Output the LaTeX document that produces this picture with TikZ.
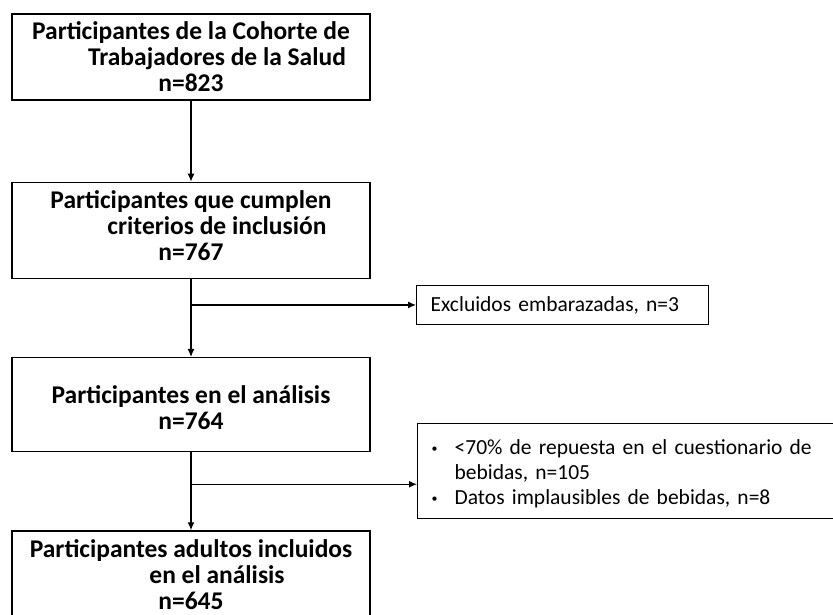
\documentclass[tikz,border=0pt]{standalone}
\usepackage{fontspec}
\setmainfont{Carlito}
\usetikzlibrary{positioning,arrows.meta}
\frenchspacing

\newcommand{\boxtext}[2][0pt]{\raisebox{#1}[\height][\depth]{\begin{tabular}{@{}c@{}}#2\end{tabular}}}
\newcommand{\itemdot}{\raisebox{2pt}{\fontsize{12}{12}\selectfont\textbullet}}

\begin{document}
\begin{tikzpicture}[
    x = 1pt, y = 1pt,
    box/.style = {draw, line width = 1.3pt, minimum width = 358pt, inner sep = 0pt,
      font = \bfseries\fontsize{25.5}{26}\selectfont},
    excl/.style = {draw, line width = 1.3pt, anchor = west, inner xsep = 14pt,
      inner ysep = 0pt, align = left, font = \fontsize{21.5}{25}\selectfont},
    flow/.style = {line width = 1.2pt, -{Latex[length = 8pt, width = 7pt]}}
  ]
  \useasboundingbox (0,0) rectangle (833,-615);
  \clip (0,0) rectangle (833,-615);

  \node[box, minimum height = 86pt] (coh) at (191,-57)
    {\boxtext[-3pt]{Participantes de la Cohorte de\\\hspace*{52pt}Trabajadores de la Salud\\n=823}};
  \node[box, minimum height = 96pt, below = 81pt of coh] (crit)
    {\boxtext[1pt]{Participantes que cumplen\\\hspace*{52pt}criterios de inclusión\\n=767}};
  \node[box, minimum height = 94pt, below = 78pt of crit] (ana)
    {\boxtext[-7pt]{Participantes en el análisis\\n=764}};
  \node[box, minimum height = 96pt, below = 78pt of ana] (adu)
    {\boxtext[1pt]{Participantes adultos incluidos\\\hspace*{52pt}en el análisis\\n=645}};

  \coordinate[below = 26pt of crit.south] (br1);
  \coordinate[below = 32pt of ana.south] (br2);

  \node[excl, minimum height = 39pt, text width = 264pt, right = 225pt of br1] (emb)
    {Excluidos embarazadas, n=3};
  \node[excl, minimum height = 95pt, text width = 400pt, right = 226pt of br2, yshift = 13.5pt] (beb)
    {\raisebox{-4pt}[\height][\depth]{\begin{tabular}{@{}p{23pt}@{}l@{}}
      \itemdot & <70\% de repuesta en el cuestionario de\\
               & bebidas, n=105\\
      \itemdot & Datos implausibles de bebidas, n=8
    \end{tabular}}};

  \draw[flow] (coh) -- (crit);
  \draw[flow] (crit) -- (ana);
  \draw[flow] (br1) -- (emb);
  \draw[flow] (ana) -- (adu);
  \draw[flow] (br2) -- (br2 -| beb.west);
\end{tikzpicture}
\end{document}
